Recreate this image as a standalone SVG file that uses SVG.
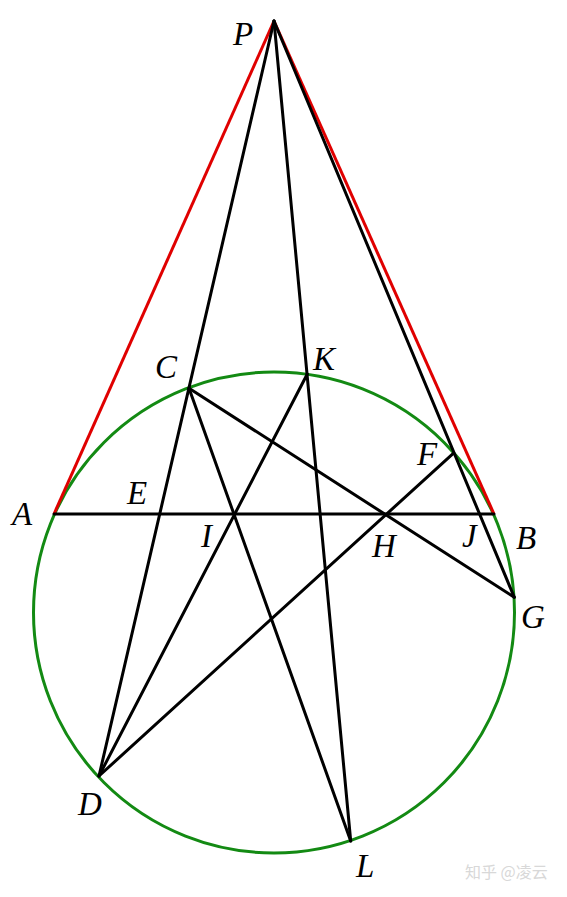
<svg xmlns="http://www.w3.org/2000/svg" width="567" height="897" viewBox="0 0 567 897">
<style>
.ln{stroke:#000;stroke-width:3;fill:none;stroke-linecap:round}
.rd{stroke:#e00000;stroke-width:3;fill:none}
.lb{font-family:"Liberation Serif",serif;font-style:italic;font-size:33px;fill:#000}
.wm{font-family:"Noto Sans CJK SC",sans-serif;font-size:16px;fill:#d8d8d8}
</style>
<rect width="567" height="897" fill="#fff"/>
<g id="circle"><circle cx="274" cy="612.5" r="240.5" fill="none" stroke="#138a13" stroke-width="3"/></g>
<g id="connectors">
<line class="rd" x1="274" y1="21" x2="54" y2="514"/>
<line class="rd" x1="274" y1="21" x2="494" y2="514"/>
<line class="ln" x1="54" y1="514" x2="494" y2="514"/>
<line class="ln" x1="274" y1="21" x2="99" y2="776"/>
<line class="ln" x1="274" y1="21" x2="350.7" y2="841"/>
<line class="ln" x1="274" y1="21" x2="514.3" y2="597.3"/>
<line class="ln" x1="189" y1="388.3" x2="514.3" y2="597.3"/>
<line class="ln" x1="189" y1="388.3" x2="350.7" y2="841"/>
<line class="ln" x1="307.3" y1="374" x2="99" y2="776"/>
<line class="ln" x1="453.3" y1="453.3" x2="99" y2="776"/>
</g>
<g id="P"><text class="lb" x="233" y="45">P</text></g>
<g id="A"><text class="lb" x="12" y="525">A</text></g>
<g id="B"><text class="lb" x="516" y="549">B</text></g>
<g id="C"><text class="lb" x="155" y="378">C</text></g>
<g id="K"><text class="lb" x="313" y="370">K</text></g>
<g id="E"><text class="lb" x="127" y="504">E</text></g>
<g id="F"><text class="lb" x="417" y="465">F</text></g>
<g id="I"><text class="lb" x="201" y="547">I</text></g>
<g id="H"><text class="lb" x="372" y="557">H</text></g>
<g id="J"><text class="lb" x="462" y="547">J</text></g>
<g id="G"><text class="lb" x="521" y="628">G</text></g>
<g id="D"><text class="lb" x="78" y="815">D</text></g>
<g id="L"><text class="lb" x="356" y="877">L</text></g>
<g id="watermark"><text class="wm" x="465" y="878">知乎 @凌云</text></g>
</svg>
